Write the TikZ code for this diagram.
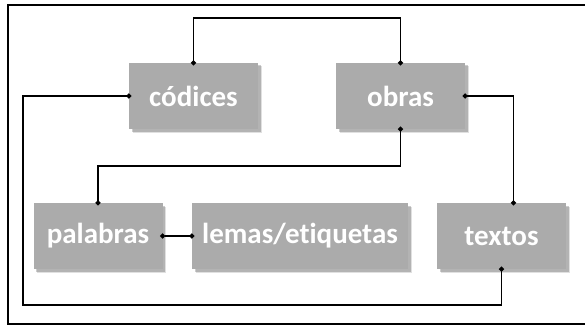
\documentclass[tikz,border=0pt]{standalone}
\usepackage{fontspec}
\setmainfont[Ligatures=NoCommon]{Carlito}
\usetikzlibrary{arrows.meta,shadows}

\begin{document}
\begin{tikzpicture}[x=1pt,y=-1pt]
\tikzset{
  entity/.style={fill=boxgray, minimum width=129pt, minimum height=66pt, inner sep=0pt,
    text=white, font=\fontsize{29}{31}\selectfont\bfseries,
    general shadow={shadow xshift=3.5pt, shadow yshift=-3.5pt, opacity=0.12, fill=black},
    general shadow={shadow xshift=2.5pt, shadow yshift=-2.5pt, opacity=0.2, fill=black}},
  link/.style={line width=1.3pt, {Circle[length=5pt]}-{Circle[length=5pt]}, shorten <=-2.5pt, shorten >=-2.5pt}
}
\definecolor{boxgray}{RGB}{171,171,171}
\useasboundingbox (0,0) rectangle (585,326);
\draw [line width=1.5pt] (8,5) rectangle (588,324);
% boxes
\node [entity] (codices) at (193.5,96) {códices};
\node [entity] (obras) at (400.5,96) {obras};
\node [entity] (palabras) at (98,236) {palabras};
\node [entity, minimum width=216pt] (lemas) at (300,236) {lemas/etiquetas};
\node [entity] (textos) at (501.5,236) {textos};
% connectors
\draw [link] (codices.north) |- (193.5,18) -| (obras.north);
\draw [link] (codices.west) -| (23,305) -| (textos.south);
\draw [link] (obras.south) |- (97,166) -| (palabras.north);
\draw [link] (obras.east) -| ([xshift=12pt]textos.north);
\draw [link] (palabras.east) -- (lemas.west);
\end{tikzpicture}
\end{document}
